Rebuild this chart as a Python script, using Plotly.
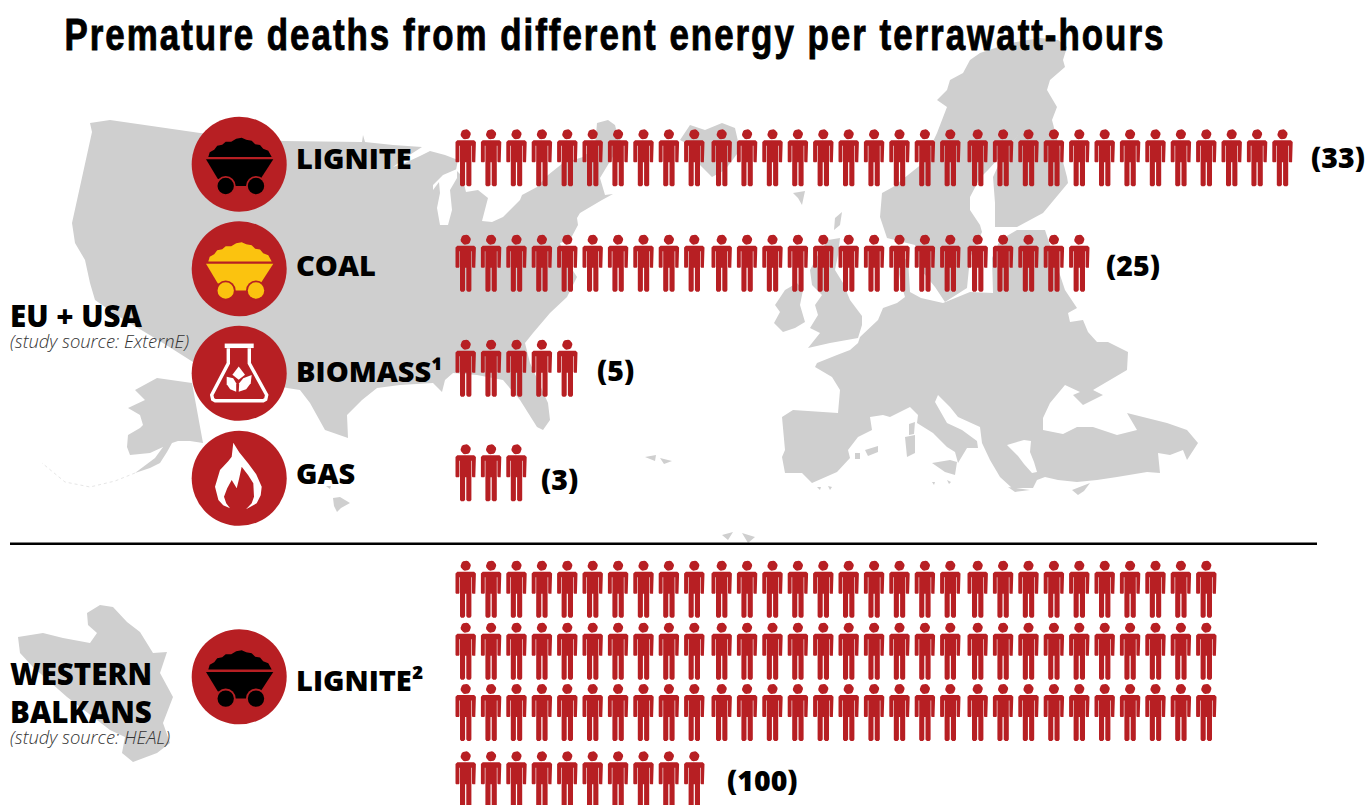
import numpy as np
import plotly.graph_objects as go

# ---- data ----
series_names = ["Lignite", "Coal", "Biomass", "Gas", "Lignite (Western Balkans)"]
deaths = [33, 25, 5, 3, 100]
group_names = ["LIGNITE", "COAL", "BIOMASS¹", "GAS", "LIGNITE²"]
title_text = "Premature deaths from different energy per terrawatt-hours"

# ---- layout of the pictogram rows ----
per_row = [33, 25, 5, 3, 30]
row_y = [[134.3], [239.7], [344.7], [449.3], [565.7, 627.7, 689.0, 756.3]]
value_x = [1309, 1104, 595, 539, 725]
value_y = [157, 265, 370, 479, 780]
label_y = [157.5, 264.5, 370.5, 472.5, 679.5]
icon_y = [164.2, 268.7, 373.3, 478.3, 676.8]
ICON_X = 239.2
PERSON_X0, STEP, GROUP_GAP = 465.7, 25.4, 2.0

RED = "#b71f23"
GREY = "#cfcfcf"
YELLOW = "#fbc30f"
BOLD = "Open Sans"

# ---- person glyph (offsets from head centre) ----
body = [(-8.4, 6), (8.4, 6), (10.2, 7.8), (10.2, 27.2), (9.6, 28), (6.9, 28), (6.3, 27.2), (6.3, 11.5), (5.7, 11.5),
        (5.7, 50.6), (4.6, 52), (2.0, 52), (0.6, 50.6), (0.6, 28), (-0.6, 28), (-0.6, 50.6), (-2.0, 52), (-4.6, 52),
        (-5.7, 50.6), (-5.7, 11.5), (-6.3, 11.5), (-6.3, 27.2), (-6.9, 28), (-9.6, 28), (-10.2, 27.2), (-10.2, 7.8)]
ang = np.linspace(0, 2 * np.pi, 19)
head = [(5.1 * np.cos(a), 5.1 * np.sin(a)) for a in ang]


def people(count, per, rows):
    xs, ys = [], []
    for n in range(count):
        i, r = n % per, n // per
        cx = PERSON_X0 + STEP * i + GROUP_GAP * min(i // 10, 2)
        cy = rows[r]
        for shape in (body, head):
            xs += [cx + p[0] for p in shape] + [cx + shape[0][0], None]
            ys += [cy + p[1] for p in shape] + [cy + shape[0][1], None]
    return xs, ys


# ---- background map outlines (page pixels) ----
usa = [(90, 123), (110, 120), (200, 133), (283, 141), (362, 142), (363, 135), (365, 142), (393, 145), (422, 147),
       (408, 156), (393, 167), (405, 163), (420, 156), (430, 151), (445, 155), (458, 160), (456, 170), (462, 176),
       (466, 192), (478, 190), (488, 198), (483, 215), (482, 221), (492, 222), (503, 217), (520, 200), (522, 195),
       (537, 187), (548, 175), (563, 163), (583, 157), (595, 147), (597, 123), (608, 120), (615, 125), (617, 133),
       (622, 143), (612, 158), (605, 170), (600, 178), (605, 195), (613, 194), (602, 200), (580, 213), (577, 218),
       (578, 225), (570, 240), (560, 243), (565, 258), (577, 277), (567, 297), (550, 313), (533, 333), (525, 343),
       (530, 363), (548, 403), (550, 420), (543, 430), (537, 427), (520, 400), (503, 380), (477, 375), (453, 373),
       (445, 380), (442, 392), (433, 383), (400, 385), (377, 388), (362, 400), (347, 415), (348, 438), (325, 430),
       (310, 403), (300, 390), (287, 388), (193, 362), (163, 343), (118, 316), (95, 300), (90, 283), (85, 260),
       (75, 243), (72, 223), (77, 200), (82, 177), (88, 150), (92, 132)]
lake = [(457, 169), (443, 175), (433, 185), (433, 190), (439, 182), (440, 193), (437, 208), (440, 225), (448, 225),
        (452, 210), (450, 190), (457, 178)]
alaska = [(135, 390), (157, 378), (192, 383), (203, 443), (190, 441), (178, 441), (172, 443), (167, 452), (160, 463),
          (150, 468), (135, 473), (155, 458), (163, 447), (150, 453), (130, 455), (127, 447), (128, 435), (140, 428),
          (143, 425), (140, 415), (128, 408), (145, 400)]
hawaii = [(333, 498), (340, 497), (350, 503), (341, 508), (337, 512), (334, 506)]
maritime = [(680, 140), (690, 125), (705, 130), (722, 123), (735, 128), (740, 150), (725, 170), (712, 177), (700, 165),
            (690, 145)]
scandinavia = [(882, 193), (893, 187), (923, 163), (937, 133), (947, 107), (937, 100), (947, 90), (950, 80), (963, 73),
               (970, 60), (980, 53), (1010, 43), (1040, 38), (1058, 40), (1067, 47), (1063, 60), (1065, 67), (1050, 80),
               (1047, 90), (1057, 107), (1052, 120), (1060, 150), (1067, 177), (1068, 183), (1043, 213), (1017, 227),
               (995, 227), (995, 203), (993, 177), (1003, 155), (1018, 135), (1008, 148), (988, 170), (980, 178),
               (970, 197), (970, 210), (980, 225), (982, 232), (970, 258), (967, 288), (945, 302), (935, 287),
               (917, 265), (915, 245), (887, 238), (880, 217)]
europe = [(1017, 230), (1045, 230), (1065, 290), (1077, 308), (1068, 313), (1070, 322), (1083, 320), (1088, 332),
          (1097, 342), (1108, 342), (1128, 352), (1127, 370), (1093, 390), (1103, 395), (1083, 405), (1073, 395),
          (1080, 392), (1065, 385), (1050, 403), (1043, 418), (1043, 430), (1063, 434), (1077, 427), (1093, 427),
          (1117, 435), (1137, 430), (1127, 413), (1167, 423), (1187, 430), (1198, 443), (1187, 460), (1183, 450),
          (1170, 455), (1158, 453), (1160, 473), (1147, 472), (1117, 477), (1097, 480), (1077, 482), (1058, 480),
          (1045, 477), (1037, 480), (1033, 488), (1012, 488), (1000, 477), (990, 460), (982, 443), (980, 427),
          (958, 417), (950, 407), (938, 395), (935, 402), (947, 423), (962, 430), (977, 441), (978, 448), (967, 448),
          (958, 463), (955, 452), (947, 447), (933, 433), (917, 423), (918, 415), (910, 407), (890, 417), (883, 415),
          (870, 417), (872, 430), (858, 437), (848, 450), (850, 458), (837, 472), (812, 483), (802, 473), (785, 473),
          (782, 457), (785, 450), (782, 417), (793, 410), (838, 413), (840, 390), (832, 377), (815, 367), (817, 363),
          (837, 355), (850, 350), (858, 343), (860, 337), (878, 320), (883, 308), (897, 303), (905, 297), (900, 280),
          (897, 262), (908, 258), (910, 292), (921, 298), (943, 303), (970, 292), (993, 293), (992, 258), (1000, 240)]
aegean = [(1007, 445), (1024, 440), (1031, 441), (1030, 452), (1034, 462), (1037, 472), (1032, 473), (1024, 464),
          (1018, 456)]
britain = [(828, 240), (840, 238), (838, 255), (835, 270), (843, 283), (850, 300), (862, 316), (862, 325), (858, 338),
           (830, 343), (808, 348), (820, 333), (810, 328), (818, 315), (815, 305), (822, 295), (812, 285), (810, 270),
           (818, 255)]
ireland = [(775, 305), (785, 290), (797, 283), (803, 290), (800, 305), (805, 322), (795, 328), (783, 332), (774, 323),
           (780, 312)]
sicily = [(932, 463), (950, 460), (957, 462), (955, 475), (945, 472)]
sardinia = [(905, 437), (915, 435), (915, 453), (907, 457)]
corsica = [(909, 424), (915, 422), (914, 434), (909, 435)]
balearic = [(865, 450), (878, 446), (878, 452), (868, 456)]
minorca = [(855, 453), (860, 453), (860, 459), (855, 459)]
cyprus = [(1072, 490), (1090, 483), (1084, 491), (1078, 495)]
faroe = [(793, 193), (805, 191), (802, 205), (798, 198)]
shetland = [(835, 218), (842, 212), (840, 225), (834, 230)]
crete = [(1008, 487), (1030, 490), (1015, 492)]
islets = [[(645, 457), (656, 455), (655, 461)], [(660, 458), (672, 461), (664, 464)], [(722, 535), (733, 532), (728, 540)],
          [(742, 533), (755, 537), (748, 543)], [(817, 487), (821, 487), (820, 490)], [(828, 486), (832, 487), (830, 490)],
          [(932, 482), (935, 482), (934, 485)], [(947, 480), (951, 482), (949, 484)], [(326, 486), (331, 486), (330, 489)]]
balkans = [(18, 637), (43, 633), (63, 638), (90, 643), (97, 633), (88, 625), (87, 613), (100, 605), (113, 607),
           (127, 622), (140, 632), (153, 653), (167, 652), (160, 673), (173, 697), (163, 723), (170, 743), (157, 753),
           (133, 762), (122, 753), (125, 737), (110, 730), (67, 697), (33, 667), (20, 653)]
grey_land = [usa, alaska, hawaii, maritime, scandinavia, europe, britain, ireland, sicily, sardinia, corsica, balearic,
             minorca, cyprus, faroe, shetland, crete, balkans] + islets
white_water = [lake, aegean]


def polys(items):
    xs, ys = [], []
    for poly in items:
        xs += [p[0] for p in poly] + [poly[0][0], None]
        ys += [p[1] for p in poly] + [poly[0][1], None]
    return xs, ys


fig = go.Figure()
gx, gy = polys(grey_land)
fig.add_trace(go.Scatter(x=gx, y=gy, mode="lines", fill="toself", fillcolor=GREY, line=dict(width=0), hoverinfo="skip", showlegend=False))
wx, wy = polys(white_water)
fig.add_trace(go.Scatter(x=wx, y=wy, mode="lines", fill="toself", fillcolor="white", line=dict(width=0), hoverinfo="skip", showlegend=False))
fig.add_trace(go.Scatter(x=[135, 115, 90, 65, 42], y=[473, 481, 487, 482, 463], mode="lines", line=dict(color="#e6e6e6", width=1, dash="dot"), hoverinfo="skip", showlegend=False))

for name, n, per, rows in zip(series_names, deaths, per_row, row_y):
    px, py = people(n, per, rows)
    fig.add_trace(go.Scatter(x=px, y=py, name=name, mode="lines", fill="toself", fillcolor=RED, line=dict(width=0), hoverinfo="name", showlegend=False))


# ---- icons ----
def path(points, ox, oy, close=True):
    d = "M" + " L".join(f"{ox + a:.1f},{oy + b:.1f}" for a, b in points)
    return d + (" Z" if close else "")


def filled(points, ox, oy, color):
    return dict(type="path", path=path(points, ox, oy), fillcolor=color, line=dict(width=0), layer="above")


def disc(ox, oy, r, color):
    return dict(type="circle", x0=ox - r, x1=ox + r, y0=oy - r, y1=oy + r, fillcolor=color, line=dict(width=0), layer="above")


heap = [(-30.9, -7.2), (-29.5, -12), (-25, -14.5), (-22, -18.5), (-17, -19.5), (-13.5, -22.5), (-8, -22.5), (-3, -25.5), (2.5, -26.5),
        (7, -24.5), (12.5, -23.5), (16, -20), (20.8, -19.2), (24, -15.5), (29.1, -13.5), (32.5, -7.2)]
cart_body = [(-33.2, -4.9), (34.1, -4.9), (21.5, 14.5), (9.1, 21.8), (-5.9, 21.8), (-21.5, 14.5)]
flask_outline = [(-10.9, -25), (-10.9, -10), (-27.5, 21.7), (-26.5, 26), (-24, 27.4), (24, 27.4), (26.5, 26), (27.5, 21.7), (10.1, -10), (10.1, -25)]
leaf_top = [(-0.5, -6.8), (5.8, 1.5), (-0.5, 6.5), (-6.8, 1.5)]
leaf_left = [(-12.5, 3.4), (-6, 5), (-3, 10), (-3, 18.4), (-9, 16), (-12.5, 11)]
leaf_right = [(12.5, 1.7), (11.5, 10), (7, 16), (-0.5, 18.4), (0, 10), (4, 5)]
flame = [(-5.9, -35.6), (0, -26), (9.1, -14.9), (17, -4), (22.5, 8.4), (21.5, 17), (17.5, 25), (6.8, 31), (12.5, 25), (14.8, 18.4), (14.1, 5),
         (9, -3), (2.5, -11.6), (0, 0), (-2.5, 10), (-7.5, 1.7), (-12, 10), (-15.2, 18.4), (-13, 25), (-9.2, 30), (-16, 27), (-20.8, 21.7), (-24.2, 8.4),
         (-19.2, -8.3), (-11, -17), (-7.5, -21.6)]

icon_shapes = []
for ky, style in zip(icon_y, ["black", YELLOW, "flask", "flame", "black"]):
    icon_shapes.append(disc(ICON_X, ky, 47.5, RED))
    if style in ("black", YELLOW):
        icon_shapes.append(filled(heap, ICON_X, ky, style))
        icon_shapes.append(filled(cart_body, ICON_X, ky, style))
        for wheel in (-13.5, 16.8):
            icon_shapes.append(disc(ICON_X + wheel, ky + 21.8, 10, RED))
            icon_shapes.append(disc(ICON_X + wheel, ky + 21.8, 8.2, style))
    elif style == "flask":
        icon_shapes.append(dict(type="path", path=path(flask_outline, ICON_X, ky, close=False), line=dict(color="white", width=3.4), fillcolor="rgba(0,0,0,0)", layer="above"))
        icon_shapes.append(dict(type="path", path=path([(-14.5, -27.5), (14.5, -27.5)], ICON_X, ky, close=False), line=dict(color="white", width=4.5), layer="above"))
        for leaf in (leaf_top, leaf_left, leaf_right):
            icon_shapes.append(filled(leaf, ICON_X, ky, "white"))
    else:
        icon_shapes.append(filled(flame, ICON_X, ky, "white"))

divider = dict(type="line", x0=10, x1=1317, y0=543.8, y1=543.8, line=dict(color="black", width=2.4), layer="above")


# ---- text ----
def note(x, y, text, size, family=BOLD, weight=700, style="normal", color="black"):
    return dict(x=x, y=y, xref="x", yref="y", text=text, showarrow=False, xanchor="left", yanchor="middle",
                font=dict(family=family, size=size, weight=weight, style=style, color=color))


notes = [note(63, 34, title_text, 44, family="Liberation Sans")]
for name, ly in zip(group_names, label_y):
    notes.append(note(294, ly, name, 29, weight=800))
for n, vx, vy in zip(deaths, value_x, value_y):
    notes.append(note(vx, vy, f"({n})", 28.5, weight=800))
notes += [note(8, 315, "EU + USA", 29.5, weight=800),
          note(8, 340, "(study source: ExternE)", 18.4, weight=300, style="italic", color="#333333"),
          note(8, 673, "WESTERN", 29.5, weight=800),
          note(8, 711, "BALKANS", 29.5, weight=800),
          note(8, 736, "(study source: HEAL)", 18.4, weight=300, style="italic", color="#333333")]

fig.update_layout(width=1369, height=805, margin=dict(l=0, r=0, t=0, b=0), paper_bgcolor="white", plot_bgcolor="white",
                  xaxis=dict(range=[0, 1369], visible=False, fixedrange=True),
                  yaxis=dict(range=[805, 0], visible=False, fixedrange=True),
                  shapes=icon_shapes + [divider], annotations=notes, showlegend=False)

# The title is a condensed, tracked face: squeeze the real text to its measured span.
squeeze = """
document.body.style.margin='0';document.documentElement.style.overflow='hidden';
var t=Array.from(document.querySelectorAll('.annotation-text')).find(function(e){return e.textContent.indexOf('Premature')===0;});
if(t){t.style.letterSpacing='2.5px';t.style.stroke='black';t.style.strokeWidth='0.9px';
var w=t.getBoundingClientRect().width;var sx=1101/w;
t.setAttribute('transform','scale('+sx+',1)');
var dx=64.5-t.getBoundingClientRect().left;
t.setAttribute('transform','translate('+dx+',0) scale('+sx+',1)');}
"""
fig.write_html("out.html", config={"displayModeBar": False}, post_script=squeeze)
